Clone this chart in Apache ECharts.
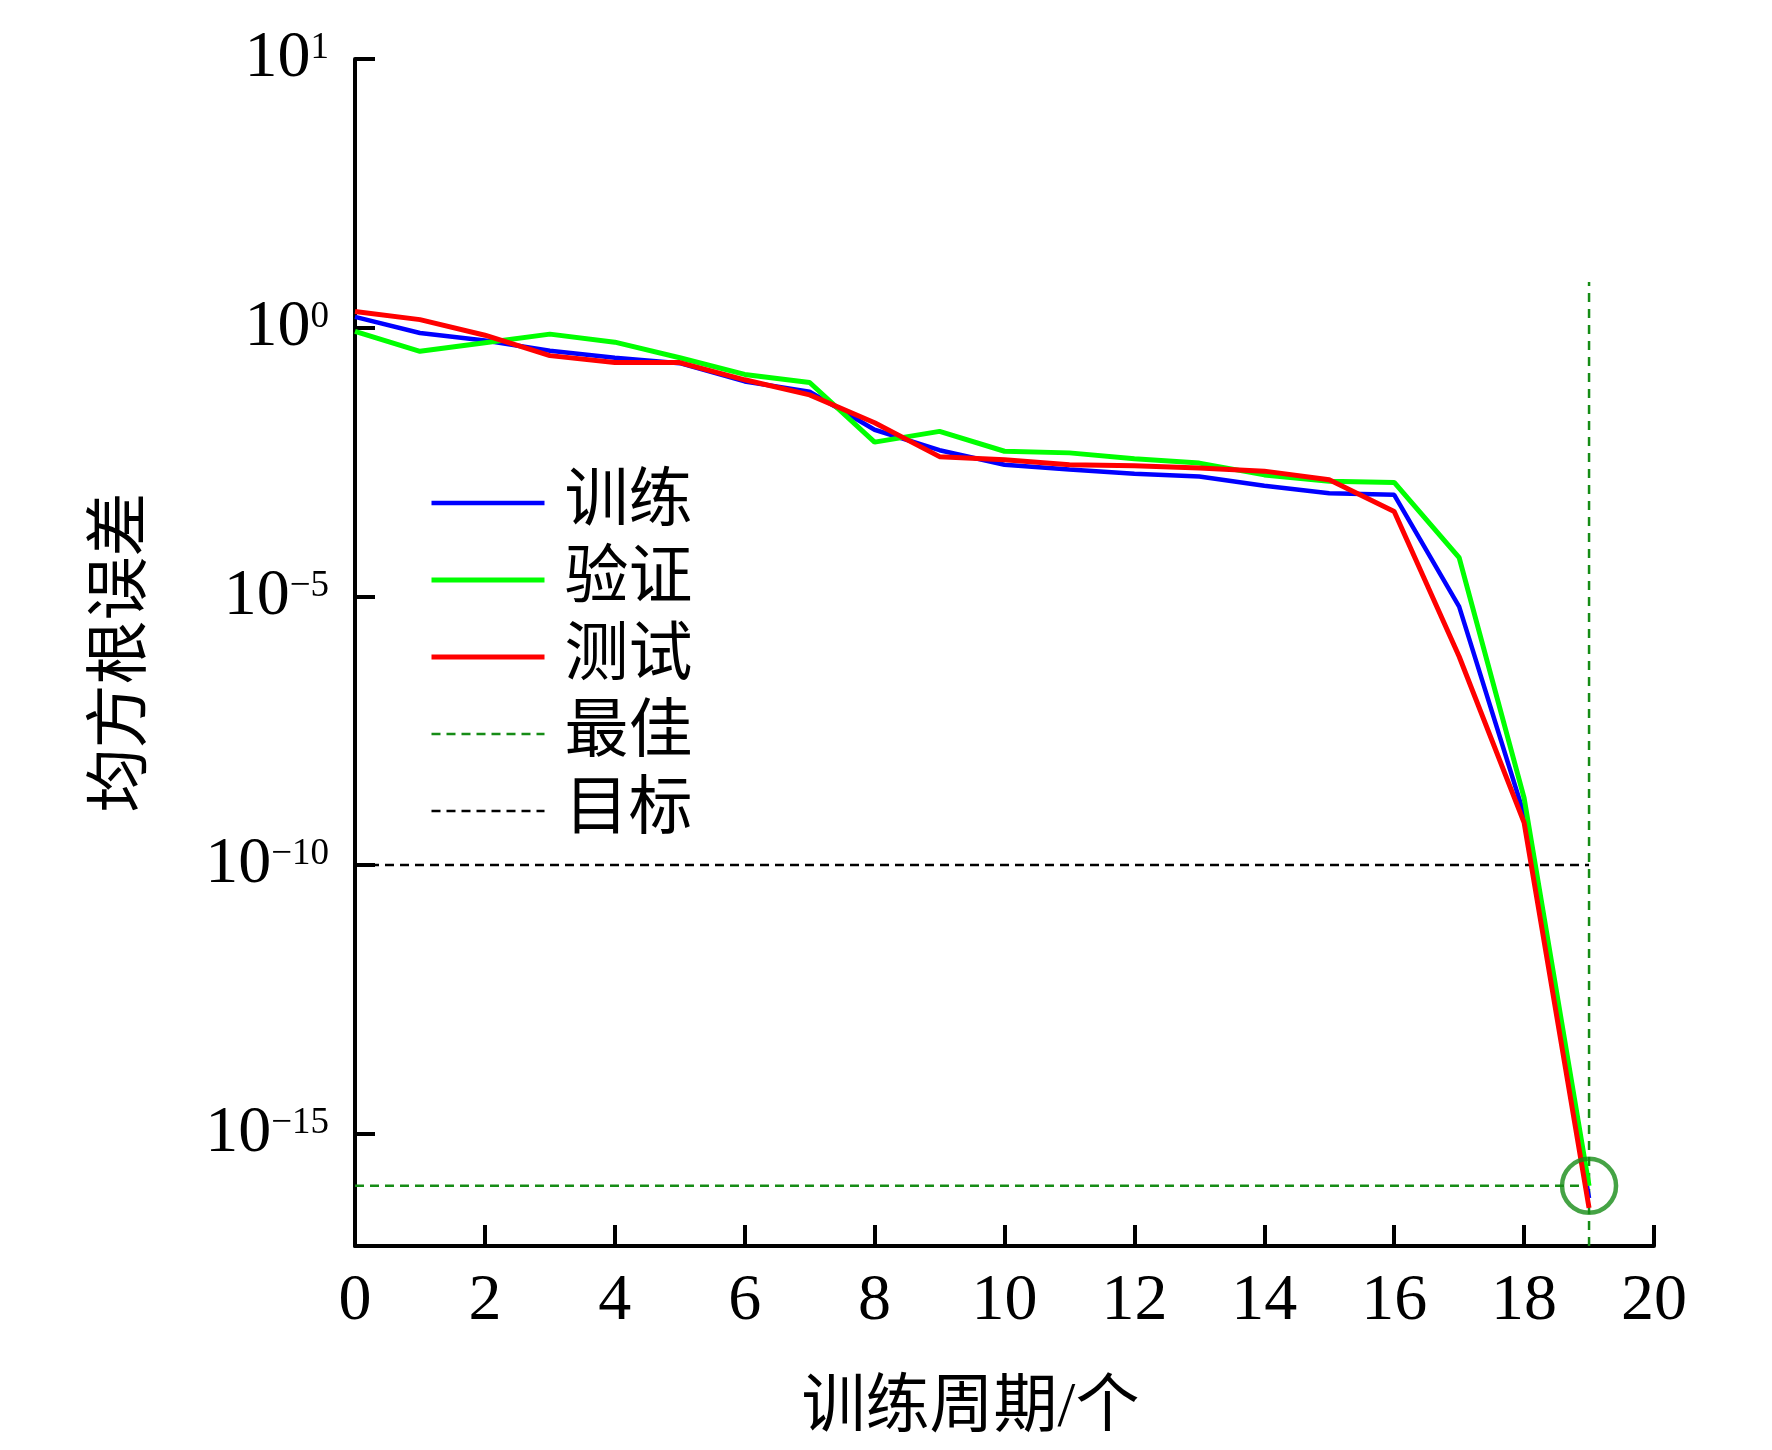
<!DOCTYPE html>
<html>
<head>
<meta charset="utf-8">
<script src="https://cdn.jsdelivr.net/npm/echarts@6/dist/echarts.min.js"></script>
<style>
  html, body { margin: 0; padding: 0; background: #fff; }
  #main { width: 1772px; height: 1450px; }
</style>
</head>
<body>
<div id="main"></div>
<script>
// epochs and log10(RMSE)
var epochs   = [0, 1, 2, 3, 4, 5, 6, 7, 8, 9, 10, 11, 12, 13, 14, 15, 16, 17, 18, 19];
var trainExp = [0.20, -0.10, -0.24, -0.43, -0.56, -0.66, -1.00, -1.19, -1.90, -2.28, -2.55, -2.64, -2.72, -2.77, -2.94, -3.08, -3.11, -5.19, -9.06, -16.20];
var valExp   = [-0.07, -0.44, -0.28, -0.12, -0.27, -0.56, -0.87, -1.02, -2.13, -1.93, -2.30, -2.33, -2.44, -2.52, -2.74, -2.86, -2.88, -4.28, -8.75, -15.97];
var testExp  = [0.30, 0.15, -0.14, -0.52, -0.65, -0.65, -0.97, -1.25, -1.77, -2.40, -2.46, -2.55, -2.57, -2.61, -2.67, -2.83, -3.42, -6.12, -9.21, -16.38];

var goalExp = -10;        // 目标
var bestEpoch = 19;       // 最佳
var bestExp = -15.97;
var bestTopExp = 0.85;

// y ticks (positions in log units) and their printed labels
var yTickVals = [-15, -10, -5, 0, 5];
var yTickSup  = ['\u221215', '\u221210', '\u22125', '0', '1'];

function pairs(xs, ys) {
  var out = [];
  for (var i = 0; i < xs.length; i++) out.push([xs[i], ys[i]]);
  return out;
}

var yMin = -17.09, yMax = 5;
var serif = '"Liberation Serif", "Noto Sans CJK SC", serif';
var bestGreen = '#168c16';

var chart = echarts.init(document.getElementById('main'));

var option = {
  backgroundColor: '#fff',
  animation: false,
  grid: { left: 355, right: 118, top: 59, bottom: 204, outerBoundsMode: 'none' },
  legend: {
    data: [
      { name: '训练', lineStyle: { width: 4.5 } },
      { name: '验证', lineStyle: { width: 5 } },
      { name: '测试', lineStyle: { width: 5 } },
      { name: '最佳', lineStyle: { width: 2.5 } },
      { name: '目标', lineStyle: { width: 2.5 } }
    ],
    orient: 'vertical',
    left: 424,
    top: 466,
    itemWidth: 113,
    itemHeight: 20,
    itemGap: 13,
    itemStyle: { opacity: 0 },
    textStyle: { fontFamily: serif, fontSize: 64, lineHeight: 64, color: '#000', padding: [0, 0, 0, 15] }
  },
  xAxis: {
    type: 'value',
    min: 0,
    max: 20,
    interval: 2,
    name: '训练周期/个',
    nameLocation: 'middle',
    nameGap: 131,
    nameTextStyle: { fontFamily: serif, fontSize: 64, color: '#000', padding: [0, 68, 0, 0] },
    axisLine: { onZero: false, lineStyle: { color: '#000', width: 4 } },
    axisTick: { inside: true, length: 21, lineStyle: { color: '#000', width: 4 } },
    axisLabel: { margin: 23, fontFamily: serif, fontSize: 66, color: '#000' },
    splitLine: { show: false }
  },
  yAxis: {
    type: 'value',
    min: yMin,
    max: yMax,
    name: '均方根误差',
    nameLocation: 'middle',
    nameRotate: 90,
    nameGap: 200,
    nameTextStyle: { fontFamily: serif, fontSize: 64, color: '#000' },
    axisLine: { show: true, onZero: false, lineStyle: { color: '#000', width: 4 } },
    axisTick: { show: true, inside: true, length: 20, customValues: yTickVals, lineStyle: { color: '#000', width: 4 } },
    axisLabel: {
      margin: 26,
      customValues: yTickVals,
      formatter: function (v) {
        var i = yTickVals.indexOf(Math.round(v));
        return '{b|10}{s|' + yTickSup[i] + '}';
      },
      rich: {
        b: { fontFamily: serif, fontSize: 66, lineHeight: 70, color: '#000' },
        s: { fontFamily: serif, fontSize: 37, lineHeight: 37, color: '#000', verticalAlign: 'top', padding: [6, 0, 0, 0] }
      }
    },
    splitLine: { show: false }
  },
  series: [
    {
      name: '目标', type: 'line', symbol: 'circle', showSymbol: false, z: 2,
      lineStyle: { color: '#000', width: 2.5, type: [9, 6] },
      itemStyle: { color: '#000' },
      data: [[0, goalExp], [bestEpoch, goalExp]]
    },
    {
      name: '最佳', type: 'line', symbol: 'circle', showSymbol: false, z: 2,
      lineStyle: { color: bestGreen, width: 2.5, type: [9, 6] },
      itemStyle: { color: bestGreen },
      data: [[0, bestExp], [bestEpoch, bestExp]]
    },
    {
      name: '最佳', type: 'line', symbol: 'circle', showSymbol: false, z: 2,
      lineStyle: { color: bestGreen, width: 2.5, type: [9, 7] },
      itemStyle: { color: bestGreen },
      data: [[bestEpoch, yMin], [bestEpoch, bestTopExp]]
    },
    {
      name: '训练', type: 'line', symbol: 'circle', showSymbol: false, z: 3,
      lineStyle: { color: '#0000ff', width: 4.5 },
      itemStyle: { color: '#0000ff' },
      data: pairs(epochs, trainExp)
    },
    {
      name: '验证', type: 'line', symbol: 'circle', showSymbol: false, z: 3,
      lineStyle: { color: '#00ff00', width: 5 },
      itemStyle: { color: '#00ff00' },
      data: pairs(epochs, valExp)
    },
    {
      name: '测试', type: 'line', symbol: 'circle', showSymbol: false, z: 3,
      lineStyle: { color: '#ff0000', width: 5 },
      itemStyle: { color: '#ff0000' },
      data: pairs(epochs, testExp)
    },
    {
      name: 'bestMark', type: 'scatter', z: 4,
      symbol: 'circle', symbolSize: 54,
      itemStyle: { color: 'rgba(0,0,0,0)', borderColor: bestGreen, borderWidth: 4.5 },
      data: [[bestEpoch, bestExp]]
    }
  ]
};

chart.setOption(option);
</script>
</body>
</html>
